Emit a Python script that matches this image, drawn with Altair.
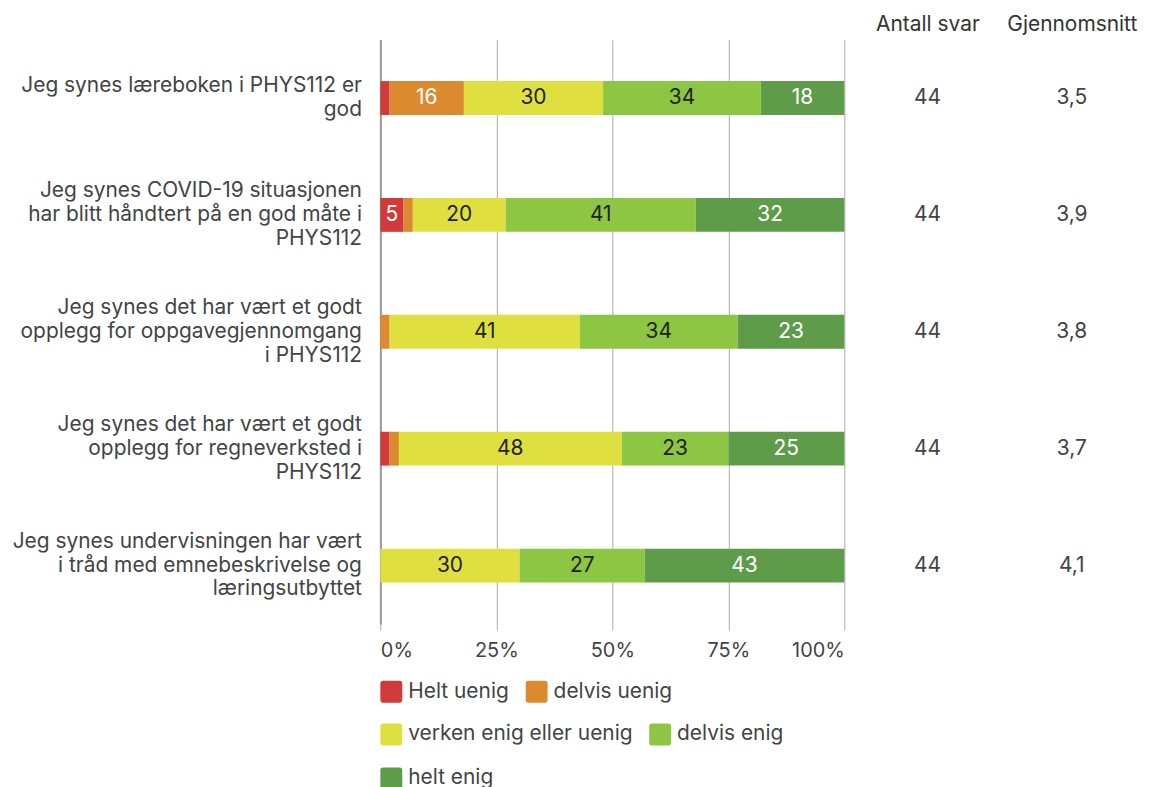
import altair as alt
import pandas as pd

questions = [
    "Jeg synes læreboken i PHYS112 er|god",
    "Jeg synes COVID-19 situasjonen|har blitt håndtert på en god måte i|PHYS112",
    "Jeg synes det har vært et godt|opplegg for oppgavegjennomgang|i PHYS112",
    "Jeg synes det har vært et godt|opplegg for regneverksted i|PHYS112",
    "Jeg synes undervisningen har vært|i tråd med emnebeskrivelse og|læringsutbyttet",
]
categories = ["Helt uenig", "delvis uenig", "verken enig eller uenig", "delvis enig", "helt enig"]
helt_uenig = [2, 5, 0, 2, 0]
delvis_uenig = [16, 2, 2, 2, 0]
verken = [30, 20, 41, 48, 30]
delvis_enig = [34, 41, 34, 23, 27]
helt_enig = [18, 32, 23, 25, 43]
antall_svar = [44, 44, 44, 44, 44]
gjennomsnitt = [3.5, 3.9, 3.8, 3.7, 4.1]
columns = ["Antall svar", "Gjennomsnitt"]
colors = ["#d03a3a", "#db8a2f", "#dfe03f", "#8dc642", "#5f9c4a"]
legend_rows = [categories[0:2], categories[2:4], categories[4:5]]

series = [helt_uenig, delvis_uenig, verken, delvis_enig, helt_enig]
rows = []
for qi, q in enumerate(questions):
    for ci, c in enumerate(categories):
        rows.append({"q": q, "cat": c, "ci": ci, "value": series[ci][qi]})
df = pd.DataFrame(rows)

side_rows = []
for qi, q in enumerate(questions):
    side_rows.append({"q": q, "col": columns[0], "txt": str(antall_svar[qi])})
    side_rows.append({"q": q, "col": columns[1], "txt": f"{gjennomsnitt[qi]:.1f}".replace(".", ",")})
side_df = pd.DataFrame(side_rows)

FONT = "Inter"
FS = 21
rounded = "M-0.75,-1 H0.75 Q1,-1 1,-0.75 V0.75 Q1,1 0.75,1 H-0.75 Q-1,1 -1,0.75 V-0.75 Q-1,-1 -0.75,-1 Z"

yscale = alt.Scale(domain=questions, paddingInner=0, paddingOuter=0)

base = alt.Chart(df).transform_stack(
    stack="value", groupby=["q"], as_=["x0", "x1"],
    sort=[alt.SortField("ci", order="ascending")], offset="normalize"
).transform_calculate(mid="(datum.x0 + datum.x1) / 2")

label_offset = {
    "condition": {"test": "length(split(datum.label, '|')) >= 3", "value": -24},
    "value": -12,
}

y_enc = alt.Y("q:N", scale=yscale, sort=questions,
              axis=alt.Axis(title=None, labelExpr="split(datum.label, '|')", labelAlign="right",
                            labelFontSize=FS, labelColor="#444", labelFont=FONT, labelLimit=400,
                            ticks=False, labelPadding=19, domainColor="#999", domainWidth=2,
                            labelLineHeight=24, labelOffset=label_offset,
                            minExtent=374, maxExtent=374))
x_enc = alt.X("x0:Q", scale=alt.Scale(domain=[0, 1], nice=False),
              axis=alt.Axis(title=None, format=".0%", values=[0, 0.25, 0.5, 0.75, 1], grid=True,
                            gridColor="#aaa", domain=False, tickColor="#aaa", tickSize=6,
                            labelPadding=11, labelFontSize=20, labelColor="#444", labelFont=FONT,
                            labelFlush=True))


def color_enc(values, ypos):
    return alt.Color(
        "cat:N", scale=alt.Scale(domain=categories, range=colors),
        legend=alt.Legend(title=None, orient="none", legendX=0, legendY=ypos,
                          direction="horizontal", values=values,
                          symbolType=rounded, symbolSize=484, symbolStrokeWidth=0,
                          symbolOpacity=1, labelFontSize=FS, labelColor="#444",
                          labelFont=FONT, labelOffset=6, columnPadding=16, labelLimit=400))


legend_y = [644, 687, 731]

bars = base.mark_bar(size=34).encode(
    y=y_enc, x=x_enc, x2="x1:Q",
    color=color_enc(legend_rows[0], legend_y[0]),
    order=alt.Order("ci:Q"),
)

ghosts = [
    base.mark_bar(size=34, opacity=0).encode(
        y=alt.Y("q:N", scale=yscale, sort=questions), x="x0:Q", x2="x1:Q",
        color=color_enc(legend_rows[i], legend_y[i]),
    )
    for i in (1, 2)
]

labels = base.transform_filter("datum.value >= 5").mark_text(fontSize=FS, font=FONT).encode(
    y=alt.Y("q:N", scale=yscale, sort=questions),
    x=alt.X("mid:Q"),
    text=alt.Text("value:Q"),
    color=alt.condition("datum.ci == 2 || datum.ci == 3", alt.value("#222"), alt.value("white")),
)

main = alt.layer(bars, ghosts[0], ghosts[1], labels).resolve_scale(
    color="independent").properties(width=466, height=587)

side = alt.Chart(side_df).mark_text(fontSize=FS, color="#444", font=FONT).encode(
    y=alt.Y("q:N", scale=alt.Scale(domain=questions, paddingInner=0, paddingOuter=0), axis=None),
    x=alt.X("col:N", scale=alt.Scale(domain=columns, paddingInner=0, paddingOuter=0),
            axis=alt.Axis(orient="top", title=None, labelAngle=0, domain=False, ticks=False,
                          labelFontSize=FS, labelColor="#333", labelFont=FONT, labelPadding=5,
                          minExtent=30, maxExtent=30)),
    text="txt:N",
).properties(width=290, height=587)

chart = alt.hconcat(main, side, spacing=10).properties(padding=0).configure_view(stroke=None)

chart.save("out.html", embed_options={"renderer": "svg", "actions": False})
